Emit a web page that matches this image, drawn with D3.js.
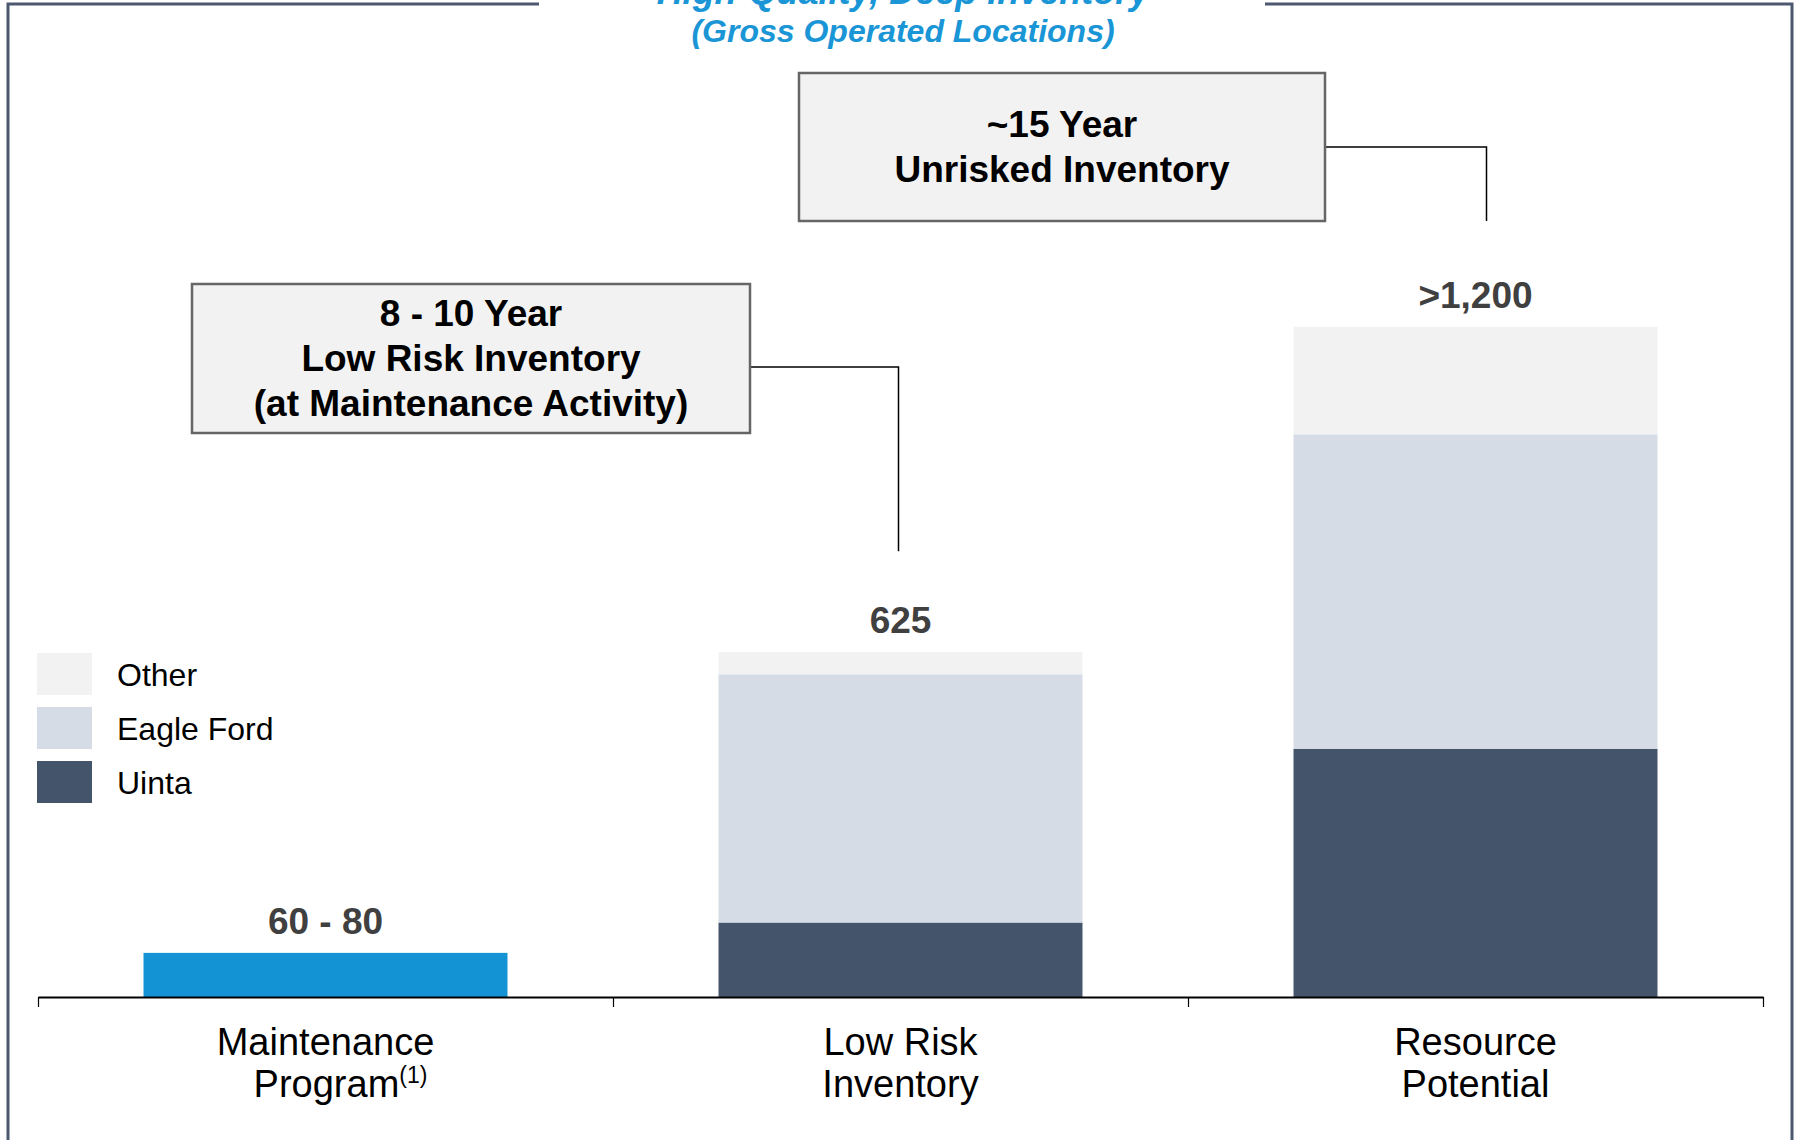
<!DOCTYPE html>
<html>
<head>
<meta charset="utf-8">
<script src="https://cdn.jsdelivr.net/npm/d3@7"></script>
<style>
  html, body { margin: 0; padding: 0; background: #ffffff; }
  svg { display: block; font-family: "Liberation Sans", Arial, sans-serif; }
</style>
</head>
<body>
<div id="chart-container"></div>
<script>
  //the chart's values
  const categories = ["Maintenance Program", "Low Risk Inventory", "Resource Potential"]
  const keys = ["Maintenance", "Uinta", "Eagle Ford", "Other"]
  const maintenanceValues = [80, 0, 0]
  const uintaValues = [0, 135, 450]
  const eagleFordValues = [0, 450, 570]
  const otherValues = [0, 40, 195]
  const totalLabels = ["60 - 80", "625", ">1,200"]
  const legendKeys = ["Other", "Eagle Ford", "Uinta"]
  const catLines = [["Maintenance", "Program"], ["Low Risk", "Inventory"], ["Resource", "Potential"]]
  const callout1 = ["8 - 10 Year", "Low Risk Inventory", "(at Maintenance Activity)"]
  const callout2 = ["~15 Year", "Unrisked Inventory"]

  const colors = {
    "Maintenance": "#1493d4",
    "Uinta": "#44546a",
    "Eagle Ford": "#d5dce6",
    "Other": "#f2f2f2"
  }

  const svgWidth = 1799
  const svgHeight = 1140
  const plot = { left: 38, right: 1763, baseline: 997, top: 335 }

  const svg = d3.select("#chart-container").append("svg")
    .attr("width", svgWidth)
    .attr("height", svgHeight)

  //build the table for the stack
  const table = categories.map((c, i) => ({
    category: c,
    "Maintenance": maintenanceValues[i],
    "Uinta": uintaValues[i],
    "Eagle Ford": eagleFordValues[i],
    "Other": otherValues[i]
  }))
  const stacked = d3.stack().keys(keys)(table)
  const totals = table.map(d => d3.sum(keys, k => d[k]))

  //scales
  const xScale = d3.scaleBand()
    .domain(categories)
    .range([plot.left, plot.right])
    .paddingInner(0.367)
    .paddingOuter(0.1835)
  const yScale = d3.scaleLinear()
    .domain([0, 1200])
    .range([plot.baseline, plot.top])
  const boundary = d3.scaleLinear()
    .domain([0, categories.length])
    .range([plot.left, plot.right])
  const center = c => xScale(c) + xScale.bandwidth() / 2

  //frame with a gap for the title
  svg.append("path")
    .attr("d", "M539,4H8V1145 M1265,4H1792V1145")
    .attr("fill", "none")
    .attr("stroke", "#4b5870")
    .attr("stroke-width", 3)

  svg.append("text")
    .attr("x", 903).attr("y", 4)
    .attr("text-anchor", "middle")
    .attr("font-size", 36).attr("font-weight", "bold").attr("font-style", "italic")
    .attr("fill", "#1a96d6")
    .text("High-Quality, Deep Inventory")
  svg.append("text")
    .attr("x", 903).attr("y", 42)
    .attr("text-anchor", "middle")
    .attr("font-size", 32).attr("font-weight", "bold").attr("font-style", "italic")
    .attr("fill", "#1a96d6")
    .text("(Gross Operated Locations)")

  //bars
  stacked.forEach(layer => {
    svg.append("g").attr("class", "layer")
      .selectAll("rect")
      .data(layer.filter(d => d[1] > d[0]))
      .join("rect")
      .attr("x", d => xScale(d.data.category))
      .attr("width", xScale.bandwidth())
      .attr("y", d => yScale(d[1]))
      .attr("height", d => yScale(d[0]) - yScale(d[1]))
      .attr("fill", colors[layer.key])
  })

  //total labels
  svg.append("g").selectAll("text")
    .data(categories)
    .join("text")
    .attr("x", d => center(d))
    .attr("y", (d, i) => yScale(totals[i]) - 19)
    .attr("text-anchor", "middle")
    .attr("font-size", 37).attr("font-weight", "bold")
    .attr("fill", "#404040")
    .text((d, i) => totalLabels[i])

  //x axis: line with ticks at the band boundaries
  const xAxis = d3.axisBottom(boundary)
    .tickValues(d3.range(categories.length + 1))
    .tickFormat("")
    .tickSize(10)
    .tickSizeOuter(0)
  const axisG = svg.append("g")
    .attr("class", "xAxis")
    .attr("transform", "translate(0," + plot.baseline + ")")
    .call(xAxis)
  axisG.select(".domain").attr("stroke", "#000").attr("stroke-width", 2)
  axisG.selectAll(".tick line").attr("stroke", "#000").attr("stroke-width", 1.2)

  //category labels
  categories.forEach((c, i) => {
    const t = svg.append("text")
      .attr("text-anchor", "middle")
      .attr("font-size", 38)
      .attr("fill", "#000")
    t.append("tspan").attr("x", center(c)).attr("y", 1055).text(catLines[i][0])
    t.append("tspan").attr("x", center(c) + (i == 0 ? 15 : 0)).attr("y", 1097).text(catLines[i][1])
    if (i == 0) {
      t.append("tspan").attr("dy", -14).attr("font-size", 23).text("(1)")
    }
  })

  //legend
  const legend = svg.append("g").attr("class", "legend")
  legendKeys.forEach((k, i) => {
    legend.append("rect")
      .attr("x", 37).attr("y", 653 + i * 54)
      .attr("width", 55).attr("height", 42)
      .attr("fill", colors[k])
    legend.append("text")
      .attr("x", 117).attr("y", 686 + i * 54)
      .attr("font-size", 32)
      .attr("fill", "#000")
      .text(k)
  })

  //callout boxes
  function callout(box, lines, lineY, target) {
    svg.append("path")
      .attr("d", "M" + (box.x + box.w) + "," + target.y0 + "H" + target.x + "V" + target.y1)
      .attr("fill", "none")
      .attr("stroke", "#000")
      .attr("stroke-width", 1.5)
    svg.append("rect")
      .attr("x", box.x).attr("y", box.y)
      .attr("width", box.w).attr("height", box.h)
      .attr("fill", "#f2f2f2")
      .attr("stroke", "#666")
      .attr("stroke-width", 2.5)
    svg.append("g").selectAll("text")
      .data(lines)
      .join("text")
      .attr("x", box.x + box.w / 2)
      .attr("y", (d, i) => lineY + i * 45)
      .attr("text-anchor", "middle")
      .attr("font-size", 37).attr("font-weight", "bold")
      .attr("fill", "#000")
      .text(d => d)
  }
  callout({ x: 192, y: 284, w: 558, h: 149 }, callout1, 326,
    { x: center(categories[1]) - 2, y0: 367, y1: yScale(totals[1]) - 101 })
  callout({ x: 799, y: 73, w: 526, h: 148 }, callout2, 137,
    { x: center(categories[2]) + 11, y0: 147, y1: 221 })
</script>
</body>
</html>
